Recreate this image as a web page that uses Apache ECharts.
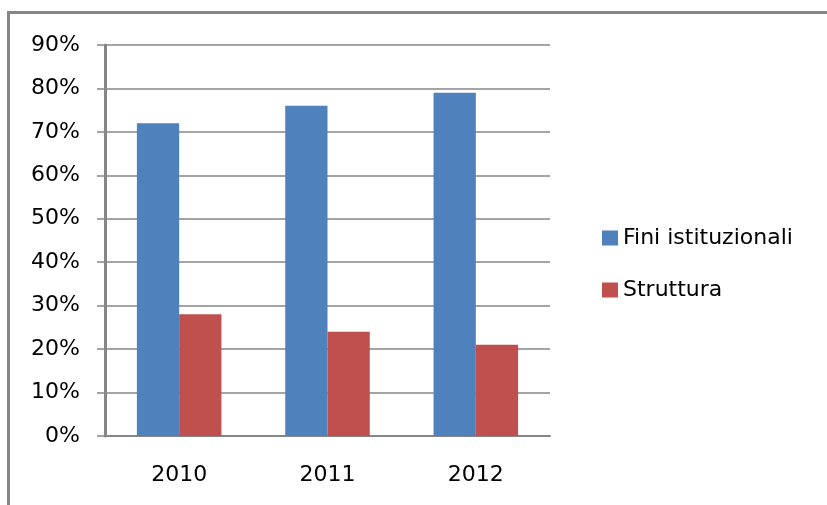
<!DOCTYPE html>
<html>
<head>
<meta charset="utf-8">
<script src="https://cdn.jsdelivr.net/npm/echarts@6/dist/echarts.min.js"></script>
<style>
  html, body { margin: 0; padding: 0; background: #fff; }
  #chart { width: 827px; height: 505px; }
</style>
</head>
<body>
<div id="chart"></div>
<script>
// data
const years = ['2010', '2011', '2012'];
const fini = [72, 76, 79];
const struttura = [28, 24, 21];
const seriesNames = ['Fini istituzionali', 'Struttura'];

const chart = echarts.init(document.getElementById('chart'), null, { renderer: 'canvas' });
const gray = '#868686';
const font = 'DejaVu Sans';

const option = {
  backgroundColor: '#fff',
  animation: false,
  graphic: [{
    type: 'rect',
    shape: { x: 8.5, y: 12.5, width: 900, height: 600 },
    style: { fill: 'none', stroke: gray, lineWidth: 3 }
  }],
  legend: {
    orient: 'vertical',
    left: 597,
    top: 222,
    itemWidth: 16,
    itemHeight: 15,
    itemGap: 30,
    icon: 'rect',
    textStyle: { fontFamily: font, fontSize: 22, color: '#000', padding: [0, 0, 0, 0] },
    data: seriesNames
  },
  grid: { left: 105, right: 277, top: 45, bottom: 69 },
  xAxis: {
    type: 'category',
    data: years,
    axisLine: { lineStyle: { color: gray, width: 2 } },
    axisTick: { length: 9, lineStyle: { color: gray, width: 2 } },
    axisLabel: { fontFamily: font, fontSize: 22, color: '#000', margin: 28 }
  },
  yAxis: {
    type: 'value',
    min: 0,
    max: 90,
    interval: 10,
    axisLine: { show: true, lineStyle: { color: gray, width: 3 } },
    axisTick: { show: true, length: 8, lineStyle: { color: gray, width: 1.5 } },
    splitLine: { lineStyle: { color: gray, width: 1.5 } },
    axisLabel: {
      fontFamily: font, fontSize: 22, color: '#000', margin: 25,
      formatter: v => v + '%'
    }
  },
  series: [{
    name: seriesNames[0],
    type: 'bar',
    data: fini,
    itemStyle: { color: '#4F81BD' },
    barGap: '0%',
    barCategoryGap: '43%'
  }, {
    name: seriesNames[1],
    type: 'bar',
    data: struttura,
    itemStyle: { color: '#C0504D' },
    barGap: '0%',
    barCategoryGap: '43%'
  }]
};
chart.setOption(option);
</script>
</body>
</html>
